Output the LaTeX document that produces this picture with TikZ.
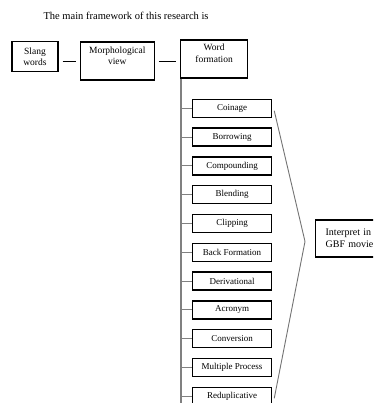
\documentclass[tikz,border=0pt]{standalone}
\usepackage{fontspec}
\setmainfont{Liberation Serif}
\usetikzlibrary{positioning,calc}
\newcommand{\liftup}[2]{\raisebox{#1}[\height][\depth]{\begin{tabular}{@{}c@{}}#2\end{tabular}}}

\begin{document}
\begin{tikzpicture}[
  x=1pt, y=1pt,
  node distance=9.5pt,
  m/.style={draw, line width=1.3pt, minimum width=46pt, minimum height=30pt, align=center, inner sep=1pt, font=\fontsize{9.5}{11}\selectfont},
  sub/.style={draw, line width=1.3pt, minimum width=79pt, minimum height=18pt, inner sep=1pt, font=\fontsize{9}{10}\selectfont},
  ln/.style={line width=0.8pt, shorten <=4pt, shorten >=4pt},
  br/.style={draw=black!55, line width=0.9pt},
  spine/.style={draw=black!50, line width=1.3pt}
]
\clip (0,0) rectangle (373,403);
\coordinate (origin) at (0,0);
\node[anchor=west, font=\fontsize{10.5}{12}\selectfont] (title) at (40,387) {The main framework of this research is};
\node[m] (slang) at (35,346.5) {Slang\\words};
\node[m, minimum width=74pt, minimum height=38pt, right=21pt of slang, yshift=-4.5pt] (morph) {\liftup{4pt}{Morphological\\view}};
\node[m, minimum width=67pt, minimum height=38pt, right=25pt of morph, yshift=2pt] (word) {\liftup{5pt}{Word\\[1pt]formation}};
\draw[ln] (slang.east |- morph) -- (morph.west);
\draw[ln] (morph.east) -- (word.west |- morph);
% the branches
\node[sub, below=20pt of word.south west, anchor=north west, xshift=12pt] (coin) {Coinage};
\node[sub, below=of coin] (borrow) {Borrowing};
\node[sub, below=of borrow] (comp) {Compounding};
\node[sub, below=of comp] (blend) {Blending};
\node[sub, below=of blend] (clip) {Clipping};
\node[sub, below=of clip] (back) {Back Formation};
\node[sub, below=of back] (deriv) {Derivational};
\node[sub, below=of deriv] (acro) {Acronym};
\node[sub, below=of acro] (conv) {Conversion};
\node[sub, below=of conv] (multi) {Multiple Process};
\node[sub, below=of multi] (redup) {Reduplicative};
\coordinate (top) at ($(word.south west)+(1,0)$);
\draw[spine] (top) -- (top |- origin);
\foreach \n in {coin,borrow,comp,blend,clip,back,deriv,acro,conv,multi,redup}
  \draw[spine, line width=0.8pt] (top |- \n.west) -- (\n.west);
\node[m, anchor=west, text width=60pt, inner xsep=10pt, minimum height=37pt, align=left, font=\fontsize{10}{12}\selectfont] (interp) at (315,164.5) {Interpret in\\GBF movie};
\coordinate (tip) at ($(interp.west)+(-10,-3)$);
\draw[br] ($(coin.east)+(2,-2.5)$) -- (tip) -- ($(redup.east)+(2,-2)$);
\end{tikzpicture}
\end{document}
